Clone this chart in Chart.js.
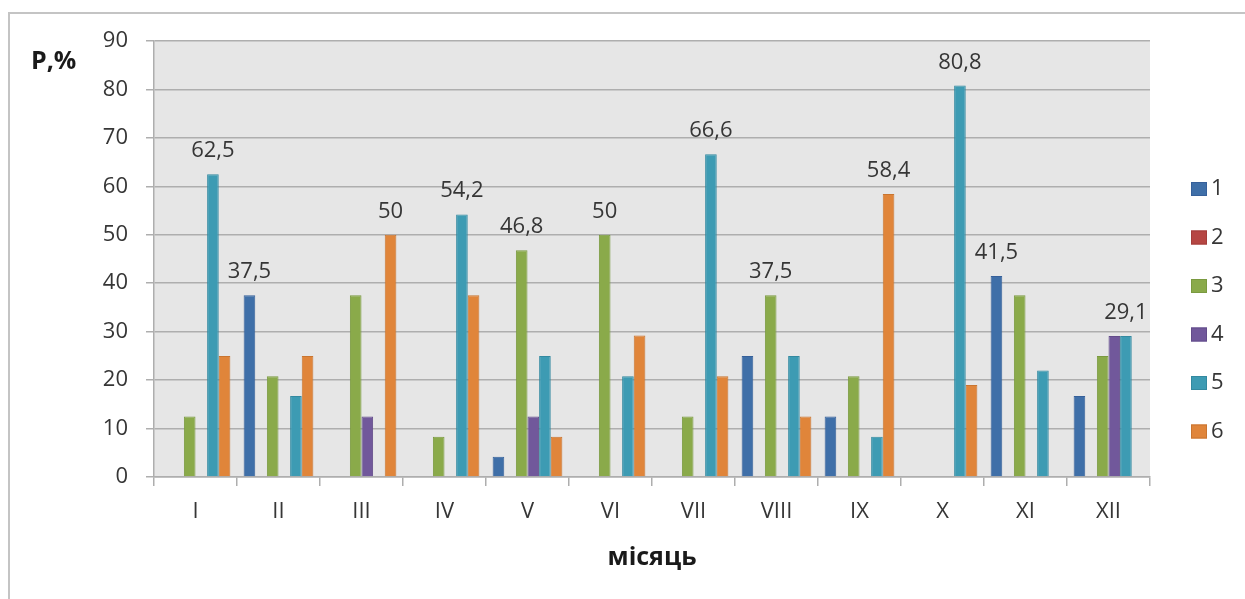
<!DOCTYPE html>
<html>
<head>
<meta charset="utf-8">
<script src="https://cdn.jsdelivr.net/npm/chart.js@4.4.1/dist/chart.umd.min.js"></script>
<style>
  html, body { margin: 0; padding: 0; background: #fff; }
  #wrap { width: 1245px; height: 599px; position: relative; }
</style>
</head>
<body>
<div id="wrap"><canvas id="chart"></canvas></div>
<script>
// months (roman numerals)
const months = ['I', 'II', 'III', 'IV', 'V', 'VI', 'VII', 'VIII', 'IX', 'X', 'XI', 'XII'];

// series values, P,%
const s1 = [0, 37.5, 0, 0, 4.2, 0, 0, 25, 12.5, 0, 41.5, 16.7];
const s2 = [0, 0, 0, 0, 0, 0, 0, 0, 0, 0, 0, 0];
const s3 = [12.5, 20.8, 37.5, 8.3, 46.8, 50, 12.5, 37.5, 20.8, 0, 37.5, 25];
const s4 = [0, 0, 12.5, 0, 12.5, 0, 0, 0, 0, 0, 0, 29.1];
const s5 = [62.5, 16.7, 0, 54.2, 25, 20.8, 66.6, 25, 8.3, 80.8, 22, 29.1];
const s6 = [25, 25, 50, 37.5, 8.3, 29.2, 20.8, 12.5, 58.4, 19, 0, 0];

const seriesNames = ['1', '2', '3', '4', '5', '6'];
const seriesData = [s1, s2, s3, s4, s5, s6];
const seriesColors = ['#3f6fa8', '#b64643', '#8aaa4a', '#71589b', '#3d9bb3', '#e0853a'];
const seriesBorders = ['#36609a', '#a33d3a', '#7a9a40', '#634c8a', '#3389a0', '#c97530'];

// which series carries the value label in each month
const labelSeries = [4, 0, 5, 4, 2, 2, 4, 2, 5, 4, 0, 4];

const yTicks = [0, 10, 20, 30, 40, 50, 60, 70, 80, 90];

const FONT = "'Open Sans', sans-serif";
const TEXT = '#363636';
const GRID = '#aeaeae';

// Frame + plot background
const backgroundPlugin = {
  id: 'background',
  beforeDraw: (chart) => {
    const { ctx, chartArea: { top, bottom, left, right } } = chart;
    ctx.save();
    ctx.fillStyle = '#e6e6e6';
    ctx.fillRect(left, top, right - left, bottom - top);
    ctx.strokeStyle = '#c4c4c4';
    ctx.lineWidth = 2;
    ctx.beginPath();
    ctx.moveTo(9, 599);
    ctx.lineTo(9, 13);
    ctx.lineTo(1245, 13);
    ctx.stroke();
    ctx.restore();
  }
};

// Value labels, y-axis caption and legend
const labelsPlugin = {
  id: 'valueLabels',
  afterDraw: (chart) => {
    const { ctx } = chart;
    ctx.save();
    ctx.fillStyle = TEXT;
    ctx.font = `22px ${FONT}`;
    ctx.textAlign = 'center';
    ctx.textBaseline = 'alphabetic';
    labelSeries.forEach((si, i) => {
      const bar = chart.getDatasetMeta(si).data[i];
      const v = chart.data.datasets[si].data[i];
      ctx.fillText(String(v).replace('.', ','), bar.x, bar.y - 17);
    });

    // y-axis caption
    ctx.fillStyle = '#1a1a1a';
    ctx.font = `bold 25px ${FONT}`;
    ctx.textAlign = 'left';
    ctx.fillText('P,%', 31, 69);

    // legend
    ctx.font = `22px ${FONT}`;
    ctx.textBaseline = 'middle';
    chart.data.datasets.forEach((ds, i) => {
      const y = 189 + i * 48.5;
      ctx.fillStyle = ds.backgroundColor;
      ctx.fillRect(1191, y - 7, 16, 14);
      ctx.strokeStyle = ds.borderColor;
      ctx.lineWidth = 1;
      ctx.strokeRect(1191.5, y - 6.5, 15, 13);
      ctx.fillStyle = TEXT;
      ctx.fillText(ds.label, 1211, y);
    });
    ctx.restore();
  }
};

new Chart(document.getElementById('chart'), {
  type: 'bar',
  data: {
    labels: months,
    datasets: seriesData.map((d, i) => ({
      label: seriesNames[i],
      data: d,
      backgroundColor: seriesColors[i],
      borderColor: seriesBorders[i],
      borderWidth: 1,
      categoryPercentage: 0.84,
      barPercentage: 1
    }))
  },
  options: {
    responsive: true,
    maintainAspectRatio: false,
    animation: false,
    layout: { padding: { top: 41, right: 95, left: 0, bottom: 0 } },
    plugins: {
      legend: { display: false },
      tooltip: { enabled: false }
    },
    scales: {
      x: {
        afterFit: (scale) => { scale.height = 122; },
        grid: { drawOnChartArea: false, drawTicks: true, tickLength: 9, color: GRID, lineWidth: 1.5 },
        border: { color: GRID, width: 1.5 },
        ticks: { color: TEXT, font: { family: FONT, size: 22 }, padding: 13 },
        title: {
          display: true,
          text: 'місяць',
          color: '#1a1a1a',
          font: { family: FONT, size: 25, weight: 'bold' },
          padding: { top: 0, bottom: 26 }
        }
      },
      y: {
        min: 0,
        max: 90,
        afterFit: (scale) => { scale.width = 154; },
        afterBuildTicks: (scale) => { scale.ticks = yTicks.map(v => ({ value: v })); },
        grid: { color: GRID, lineWidth: 1.5, tickLength: 8 },
        border: { color: GRID, width: 1.5 },
        ticks: { color: TEXT, font: { family: FONT, size: 22 }, padding: 18 }
      }
    }
  },
  plugins: [backgroundPlugin, labelsPlugin]
});
</script>
</body>
</html>
